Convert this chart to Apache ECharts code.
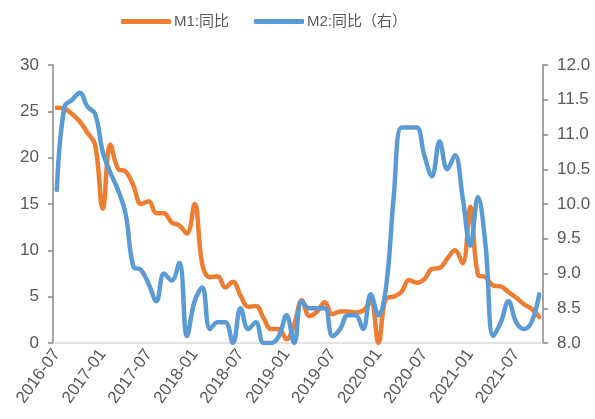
<!DOCTYPE html>
<html lang="zh">
<head>
    <meta charset="UTF-8">
    <title>M1 M2 同比</title>
    <script src="https://cdn.jsdelivr.net/npm/echarts@6/dist/echarts.min.js"></script>
    <style>
        html, body { margin: 0; padding: 0; background: #fff; }
    </style>
</head>
<body>
<div id="chartmain" style="width: 595px; height: 419px;"></div>
<script type="text/javascript">
    // 月份 2016-07 ~ 2021-10
    var months = [];
    for (var y = 2016; y <= 2021; y++) {
        for (var m = 1; m <= 12; m++) {
            if (y === 2016 && m < 7) continue;
            if (y === 2021 && m > 10) continue;
            months.push(y + '-' + (m < 10 ? '0' + m : m));
        }
    }

    var m1 = [
        25.4, 25.3, 24.7, 23.9, 22.7, 21.4,
        14.5, 21.4, 18.8, 18.5, 17.0, 15.0, 15.3, 14.0, 14.0, 13.0, 12.7, 11.8,
        15.0, 8.5, 7.1, 7.2, 6.0, 6.6, 5.1, 3.9, 4.0, 2.7, 1.5, 1.5,
        0.4, 2.0, 4.6, 2.9, 3.4, 4.4, 3.1, 3.4, 3.4, 3.3, 3.5, 4.4,
        0.0, 4.8, 5.0, 5.5, 6.8, 6.5, 6.9, 8.0, 8.1, 9.1, 10.0, 8.6,
        14.7, 7.4, 7.1, 6.2, 6.1, 5.5, 4.9, 4.2, 3.7, 2.8
    ];

    var m2 = [
        10.2, 11.4, 11.5, 11.6, 11.4, 11.3,
        10.75, 10.45, 10.2, 9.85, 9.1, 9.05, 8.85, 8.6, 9.0, 8.9, 9.15, 8.1,
        8.6, 8.8, 8.2, 8.3, 8.3, 8.0, 8.5, 8.2, 8.3, 8.0, 8.0, 8.1,
        8.4, 8.0, 8.6, 8.5, 8.5, 8.5, 8.1, 8.2, 8.4, 8.4, 8.2, 8.7,
        8.4, 8.8, 10.1, 11.1, 11.1, 11.1, 10.7, 10.4, 10.9, 10.5, 10.7, 10.1,
        9.4, 10.1, 9.4, 8.1, 8.3, 8.6, 8.3, 8.2, 8.3, 8.7
    ];

    var names = ['M1:同比', 'M2:同比（右）'];
    var colors = ['#ED7D31', '#5B9BD5'];

    var txt = '#595959';
    var font = '"Liberation Sans", Arial, "Noto Sans CJK SC", sans-serif';

    var myChart = echarts.init(document.getElementById('chartmain'));
    var option = {
        animation: false,
        color: colors,
        textStyle: { fontFamily: font },
        legend: {
            data: names,
            left: 116,
            top: 9,
            icon: 'roundRect',
            itemWidth: 50,
            itemHeight: 5,
            itemGap: 25,
            textStyle: { color: txt, fontSize: 15, fontFamily: font, padding: [0, 0, 0, -2] }
        },
        grid: { left: 53, right: 52, top: 65, bottom: 76 },
        xAxis: {
            type: 'category',
            data: months,
            boundaryGap: true,
            axisLine: { lineStyle: { color: '#d9d9d9', width: 1.5 } },
            axisTick: { interval: 5, length: 5, lineStyle: { color: '#d9d9d9', width: 1.5 } },
            axisLabel: { interval: 5, rotate: 54, fontSize: 17, color: txt, margin: 8 }
        },
        yAxis: [{
            type: 'value',
            min: 0, max: 30, interval: 5,
            splitLine: { show: false },
            axisLine: { show: true, lineStyle: { color: '#868686', width: 1.5 } },
            axisTick: { show: true, length: 5, lineStyle: { color: '#868686', width: 1.5 } },
            axisLabel: { fontSize: 17, color: txt, margin: 14 }
        }, {
            type: 'value',
            min: 8, max: 12, interval: 0.5,
            splitLine: { show: false },
            axisLine: { show: true, lineStyle: { color: '#868686', width: 1.5 } },
            axisTick: { show: true, length: 5, lineStyle: { color: '#868686', width: 1.5 } },
            axisLabel: {
                fontSize: 17, color: txt, margin: 14,
                formatter: function (v) { return v.toFixed(1); }
            }
        }],
        series: [{
            name: names[0],
            type: 'line',
            data: m1,
            yAxisIndex: 0,
            smooth: 0.4,
            symbol: 'none',
            lineStyle: { width: 4.5, color: colors[0], cap: 'round', join: 'round' }
        }, {
            name: names[1],
            type: 'line',
            data: m2,
            yAxisIndex: 1,
            smooth: 0.4,
            symbol: 'none',
            lineStyle: { width: 4.5, color: colors[1], cap: 'round', join: 'round' }
        }]
    };
    myChart.setOption(option);
</script>
</body>
</html>
